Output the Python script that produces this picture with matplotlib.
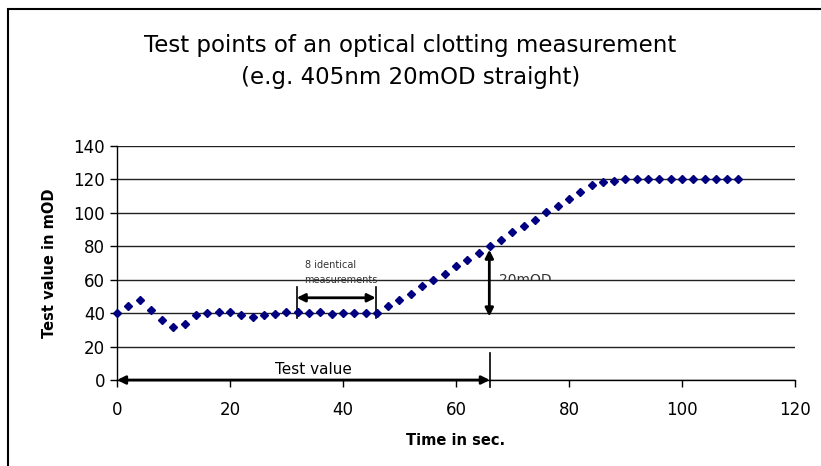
import numpy as np
import matplotlib.pyplot as plt
from matplotlib.patches import Rectangle

time_s = list(range(0, 112, 2))
test_mod = [40, 44.4, 48, 42, 36, 32, 33.6, 39, 39.8, 40.4,
            40.4, 39, 38, 39, 39.6, 40.4, 40.6, 39.8, 40.4, 39.6,
            39.8, 39.8, 39.8, 39.8, 44, 47.6, 51.6, 56, 60, 63.6,
            68.4, 72, 76, 80, 84, 88.4, 92, 96, 100.4, 104,
            108, 112.4, 116.4, 118.6, 119.2, 120, 120, 120, 120, 120,
            120, 120, 120, 120, 120, 120]

x_ticks = [0, 20, 40, 60, 80, 100, 120]
y_ticks = [0, 20, 40, 60, 80, 100, 120, 140]

fig = plt.figure(figsize=(8.21, 4.66), dpi=100)
ax = fig.add_axes([0.1425, 0.1845, 0.8258, 0.5022])

# outer frame (only left and top visible in the original)
fig.patches.append(Rectangle((8 / 821, -0.1), 1.2, 1.1 - 9 / 466, transform=fig.transFigure,
                             fill=False, edgecolor='black', linewidth=1.5))

ax.plot(time_s, test_mod, linestyle='none', marker='D', markersize=4.3,
        color='#000080', zorder=3, clip_on=False)

ax.set_xlim(0, 120)
ax.set_ylim(0, 140)
ax.set_xticks(x_ticks)
ax.set_yticks(y_ticks)
ax.tick_params(axis='both', labelsize=12, direction='out', length=5, width=1, colors='black')
ax.tick_params(axis='x', pad=10)
ax.yaxis.grid(True, color='#222222', linewidth=1)
ax.set_axisbelow(True)
for s in ['top', 'right']:
    ax.spines[s].set_visible(False)
for s in ['left', 'bottom']:
    ax.spines[s].set_linewidth(1)

ax.set_xlabel('Time in sec.', fontsize=10.5, fontweight='bold', labelpad=10)
ax.set_ylabel('Test value in mOD', fontsize=10.5, fontweight='bold', labelpad=12)

fig.text(0.5, 0.869, 'Test points of an optical clotting measurement\n(e.g. 405nm 20mOD straight)',
         ha='center', va='center', fontsize=16.5, linespacing=1.5)

arrow = dict(arrowstyle='<|-|>', color='black', lw=2, mutation_scale=12, shrinkA=0, shrinkB=0)

# 8 identical measurements
ax.annotate('', xy=(31.8, 49.2), xytext=(45.8, 49.2), arrowprops=arrow)
ax.plot([31.8, 31.8], [37, 55.8], color='black', lw=1.2)
ax.plot([45.8, 45.8], [37, 55.8], color='black', lw=1.2)
ax.text(33.2, 64.5, '8 identical\nmeasurements', fontsize=7, color='#333333',
        ha='left', va='center', linespacing=1.6)

# 20mOD (lower half hidden in the original)
ax.annotate('', xy=(65.9, 78), xytext=(65.9, 38), arrowprops=arrow)
lbl = ax.text(67.6, 64.3, '20mOD', fontsize=10, color='#333333', ha='left', va='top',
              clip_on=True)
lbl.set_clip_path(Rectangle((66, 60), 20, 20, transform=ax.transData))

# Test value
ax.annotate('', xy=(0, 0), xytext=(66, 0), arrowprops=arrow, annotation_clip=False)
ax.plot([66, 66], [16, -4], color='black', lw=1.2, clip_on=False)
ax.text(34.7, 6.5, 'Test value', fontsize=11, ha='center', va='center')

fig.savefig('out.png', dpi=100)
